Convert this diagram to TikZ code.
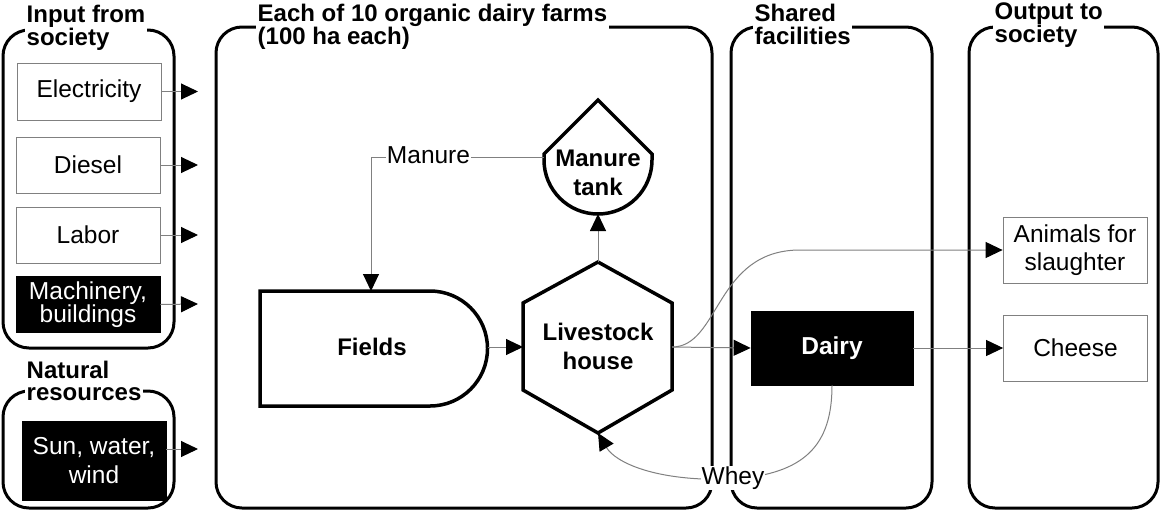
\documentclass[tikz,border=0pt]{standalone}
\usepackage{fontspec}
\setmainfont{Liberation Sans}
\usetikzlibrary{arrows.meta}
\begin{document}
\begin{tikzpicture}[x=1pt,y=-1pt,
  frame/.style={draw=black, line width=3pt, rounded corners=26pt},
  head/.style={font=\bfseries\fontsize{24}{22.5}\selectfont, fill=white, inner sep=1.5pt, align=left, anchor=north west},
  ibox/.style={draw=gray, line width=0.8pt, fill=white, font=\fontsize{24.5}{28}\selectfont, align=center, inner sep=0pt, minimum width=144pt},
  dbox/.style={ibox, fill=black, draw=black, text=white},
  shp/.style={draw=black, line width=3.5pt, line join=miter},
  conn/.style={draw=gray, line width=1pt, -{Triangle[length=17pt,width=16pt,color=black]}},
  lbl/.style={font=\fontsize{24.5}{28}\selectfont, fill=white, inner sep=1pt},
  bold/.style={font=\bfseries\fontsize{24}{29}\selectfont, align=center, inner sep=0pt},
]
\useasboundingbox (0,0) rectangle (1161,512);
\fill[white] (0,0) rectangle (1161,512);

% frames
\draw[frame] (3,30) rectangle (174,348);
\draw[frame] (3,391) rectangle (174,508);
\draw[frame] (216,27) rectangle (712,508);
\draw[frame] (731,27) rectangle (932,508);
\draw[frame] (969,27) rectangle (1158,508);

% headings
\node[head] (hin) at (25,3.5) {Input from\\society};
\node[head] (hnat) at (25,359) {Natural\\resources};
\node[head] (hfarm) at (256,2.5) {Each of 10 organic dairy farms\\(100 ha each)};
\node[head] (hsh) at (753,2.5) {Shared\\facilities};
\node[head] (hout) at (993,1.5) {Output to\\society};

% input boxes
\node[ibox, minimum height=57pt] (elec) at (89,91.5) {Electricity};
\node[ibox, minimum height=56pt] (diesel) at (88,165) {Diesel};
\node[ibox, minimum height=56pt] (labor) at (88,235) {Labor};
\node[dbox, minimum height=56pt, font=\fontsize{24.5}{23.5}\selectfont] (mach) at (88,304.5) {Machinery,\\buildings};
\node[dbox, minimum height=79pt, font=\fontsize{24.5}{29}\selectfont] (sun) at (94,460.5) {Sun, water,\\wind};

\coordinate (elecT) at (198,91.5);
\coordinate (dieselT) at (198,165);
\coordinate (laborT) at (198,235);
\coordinate (machT) at (198,304);
\coordinate (sunT) at (198,449);
\draw[conn] (elec.east) -- (elecT);
\draw[conn] (diesel.east) -- (dieselT);
\draw[conn] (labor.east) -- (laborT);
\draw[conn] (mach.east) -- (machT);
\draw[conn] (sun.east |- sunT) -- (sunT);

% farm shapes
\draw[shp] (260,291) -- (430,291) arc[start angle=-90, end angle=90, radius=57.5] -- (260,406) -- cycle;
\draw[shp] (598,262) -- (672,303) -- (672,390) -- (598,433) -- (523,390) -- (523,303) -- cycle;
\draw[shp] (598,100) -- (652,154) -- (652,160) arc[start angle=0, end angle=180, radius=54] -- (544,154) -- cycle;

\node[bold] (fields) at (372,347) {Fields};
\node[bold] (lh) at (598,346) {Livestock\\house};
\node[bold] (tank) at (598,173) {Manure\\tank};

\coordinate (tankW) at (544,157);
\coordinate (tankS) at (598,214);
\coordinate (lhN) at (598,262);
\coordinate (lhS) at (598,433);
\coordinate (lhE) at (672,347);
\coordinate (lhW) at (523,347);
\coordinate (fieldsN) at (371,291);
\coordinate (fieldsE) at (487.5,347);
\coordinate (manC) at (371,157);
\coordinate (wheyC) at (733,479);

% shared / output boxes
\node[dbox, minimum width=162pt, minimum height=74pt, font=\bfseries\fontsize{24.5}{28}\selectfont] (dairy) at (832,348) {Dairy};
\node[ibox, minimum height=66pt] (anim) at (1075,250) {Animals for\\slaughter};
\node[ibox, minimum height=66pt] (cheese) at (1075.5,348) {Cheese};

% connectors
\draw[conn] (lhN) -- (tankS);
\draw[conn] (fieldsE) -- (lhW);
\draw[conn] (tankW) -- (manC) -- (fieldsN);
\draw[conn] (lhE) -- (dairy.west);
\draw[conn] (dairy.east) -- (cheese.west);
\draw[conn] (lhE) .. controls (720,347) and (715,250) .. (800,250) -- (anim.west);
\draw[conn] (dairy.south) .. controls (832,445) and (805,474) .. (wheyC) .. controls (655,482) and (615,462) .. (lhS);

% labels
\node[lbl] (manlbl) at (428.5,155) {Manure};
\node[lbl] (wheylbl) at (733,478) {Whey};
\end{tikzpicture}
\end{document}
